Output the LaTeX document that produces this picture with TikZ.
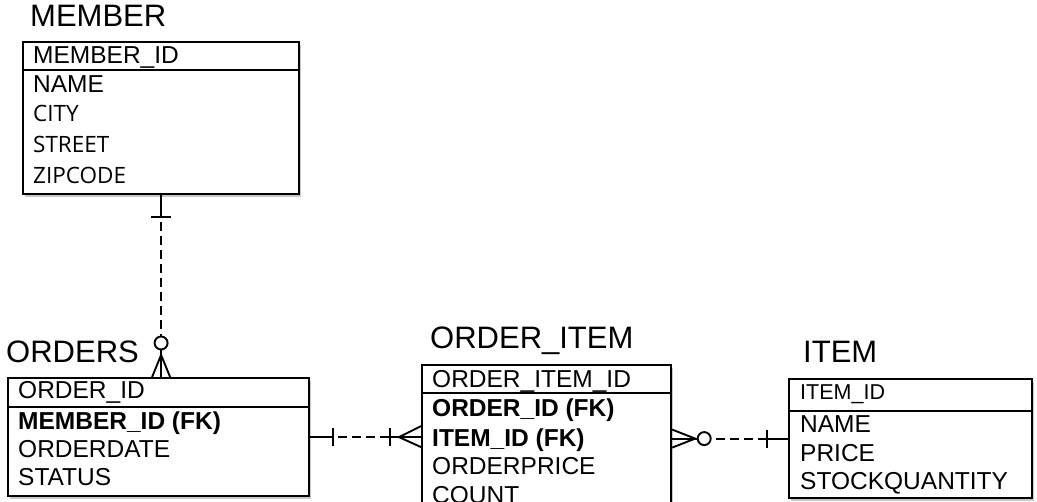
\documentclass[tikz,border=0pt]{standalone}
\usepackage{fontspec}
\setmainfont{Liberation Sans}
\newfontfamily\altfont{Open Sans}
\usetikzlibrary{shadows,calc}
\begin{document}
\begin{tikzpicture}[x=1pt,y=-1pt,
  tbl/.style={draw, line width=2.2pt, fill=white, anchor=north west, inner sep=0pt,
    drop shadow={shadow xshift=2pt, shadow yshift=-3pt, opacity=0.3, fill=black!70}},
  sepline/.style={line width=1.9pt},
  ttl/.style={anchor=base west, inner sep=0pt, font=\fontsize{31}{31}\selectfont},
  row/.style={anchor=base west, inner sep=0pt, font=\fontsize{24.5}{24.5}\selectfont},
  bold row/.style={row, font=\fontsize{24.5}{24.5}\selectfont\bfseries},
  alt row/.style={anchor=base west, inner sep=0pt, font=\fontsize{22.5}{22.5}\selectfont\altfont},
  small row/.style={anchor=base west, inner sep=0pt, font=\fontsize{21.5}{21.5}\selectfont},
  conn/.style={line width=1.9pt},
  dashconn/.style={line width=1.9pt, dash pattern=on 0pt off 5pt on 9pt off 0pt},
]
\useasboundingbox (0,0) rectangle (1037,502);
\clip (0,0) rectangle (1037,502);

% ---------- MEMBER ----------
\node[ttl] (memberT) at (30,27) {MEMBER};
\node[tbl, minimum width=276pt, minimum height=152pt] (member) at (22,41) {};
\draw[sepline] ([yshift=-29pt]member.north west) -- ([yshift=-29pt]member.north east);
\node[row] (m1) at (33,64) {MEMBER\_ID};
\node[row] (m2) at (33,93) {NAME};
\node[alt row] (m3) at (33,122) {CITY};
\node[alt row] (m4) at (33,153) {STREET};
\node[alt row] (m5) at (33,184) {ZIPCODE};

% ---------- ORDERS ----------
\node[ttl] (ordersT) at (6,363) {ORDERS};
\node[tbl, minimum width=301pt, minimum height=118pt] (orders) at (7,377) {};
\draw[sepline] ([yshift=-30pt]orders.north west) -- ([yshift=-30pt]orders.north east);
\node[row] (o1) at (18,399) {ORDER\_ID};
\node[bold row] (o2) at (18,430) {MEMBER\_ID (FK)};
\node[row] (o3) at (18,458) {ORDERDATE};
\node[row] (o4) at (18,486) {STATUS};

% ---------- ORDER_ITEM ----------
\node[ttl] (oiT) at (430,349) {ORDER\_ITEM};
\node[tbl, minimum width=249pt, minimum height=170pt] (oi) at (421,364) {};
\draw[sepline] ([yshift=-29pt]oi.north west) -- ([yshift=-29pt]oi.north east);
\node[row] (i1) at (432,388) {ORDER\_ITEM\_ID};
\node[bold row] (i2) at (432,417) {ORDER\_ID (FK)};
\node[bold row] (i3) at (432,447) {ITEM\_ID (FK)};
\node[row] (i4) at (432,475) {ORDERPRICE};
\node[row] (i5) at (432,504) {COUNT};

% ---------- ITEM ----------
\node[ttl] (itemT) at (803,363) {ITEM};
\node[tbl, minimum width=243pt, minimum height=119pt] (item) at (788,378) {};
\draw[sepline] ([yshift=-33pt]item.north west) -- ([yshift=-33pt]item.north east);
\node[small row] (t1) at (800,400) {ITEM\_ID};
\node[row] (t2) at (800,433) {NAME};
\node[row] (t3) at (800,462) {PRICE};
\node[row] (t4) at (800,490) {STOCKQUANTITY};

% ---------- MEMBER -- ORDERS ----------
\coordinate (ma) at (member.south);
\coordinate (mb) at (member.south |- orders.north);
\draw[conn] (ma) -- ($(ma)+(0,22)$);
\draw[conn] ($(ma)+(-10,22)$) -- ($(ma)+(10,22)$);
\draw[dashconn] ($(ma)+(0,22)$) -- ($(mb)+(0,-41)$);
\draw[conn] ($(mb)+(0,-34)$) circle[radius=6.5pt];
\draw[conn] ($(mb)+(0,-27.5)$) -- (mb);
\draw[conn] ($(mb)+(-9,0)$) -- ($(mb)+(0,-22)$) -- ($(mb)+(9,0)$);

% ---------- ORDERS -- ORDER_ITEM ----------
\coordinate (oa) at (orders.east);
\coordinate (ob) at (orders.east -| oi.west);
\draw[conn] (oa) -- ($(oa)+(23,0)$);
\draw[conn] ($(oa)+(23,-9)$) -- ($(oa)+(23,9)$);
\draw[dashconn] ($(oa)+(23,0)$) -- ($(ob)+(-31,0)$);
\draw[conn] ($(ob)+(-31,-9)$) -- ($(ob)+(-31,9)$);
\draw[conn] ($(ob)+(-31,0)$) -- (ob);
\draw[conn] ($(ob)+(0,-11)$) -- ($(ob)+(-22,0)$) -- ($(ob)+(0,10)$);

% ---------- ORDER_ITEM -- ITEM ----------
\coordinate (ia) at (item.west -| oi.east);
\coordinate (ib) at (item.west);
\draw[conn] ($(ia)+(0,-9)$) -- ($(ia)+(23,0)$) -- ($(ia)+(0,9)$);
\draw[conn] (ia) -- ($(ia)+(25.5,0)$);
\draw[conn] ($(ia)+(32,0)$) circle[radius=6.5pt];
\draw[dashconn] ($(ia)+(38.5,0)$) -- ($(ib)+(-21,0)$);
\draw[conn] ($(ib)+(-21,-9)$) -- ($(ib)+(-21,9)$);
\draw[conn] ($(ib)+(-21,0)$) -- (ib);
\end{tikzpicture}
\end{document}
